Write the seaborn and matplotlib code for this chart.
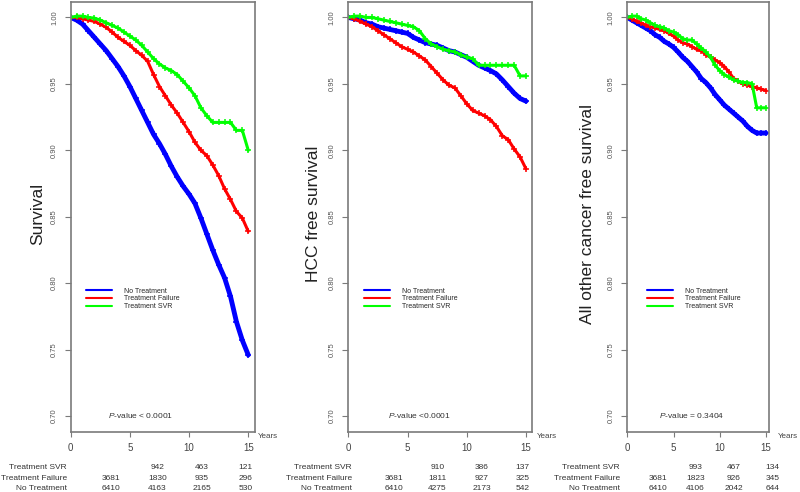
import pandas as pd
import seaborn as sns
import matplotlib.pyplot as plt
from matplotlib.lines import Line2D

# Follow-up time (years) at which the curves were read
years = [0, 0.5, 1, 1.5, 2, 2.5, 3, 3.5, 4, 4.5, 5, 5.5, 6, 6.5, 7, 7.5,
         8, 8.5, 9, 9.5, 10, 10.5, 11, 11.5, 12, 12.5, 13, 13.5, 14, 14.5, 15]

groups = ["No Treatment", "Treatment Failure", "Treatment SVR"]
colors = ["#0000FF", "#FF0000", "#00FF00"]

# Overall survival
surv_no = [1.000, 0.998, 0.995, 0.990, 0.985, 0.980, 0.975, 0.969, 0.963, 0.956,
           0.948, 0.939, 0.930, 0.921, 0.912, 0.905, 0.897, 0.888, 0.880, 0.873,
           0.867, 0.860, 0.849, 0.837, 0.825, 0.814, 0.804, 0.790, 0.771, 0.757, 0.746]
surv_fail = [1.000, 1.000, 0.999, 0.998, 0.997, 0.995, 0.9925, 0.989, 0.985, 0.982,
             0.979, 0.975, 0.9715, 0.967, 0.957, 0.948, 0.941, 0.934, 0.928, 0.921,
             0.914, 0.906, 0.900, 0.896, 0.889, 0.881, 0.871, 0.863, 0.854, 0.849, 0.839]
surv_svr = [1.000, 1.001, 1.001, 1.000, 0.9995, 0.998, 0.996, 0.994, 0.992, 0.989,
            0.986, 0.983, 0.979, 0.974, 0.969, 0.965, 0.962, 0.960, 0.957, 0.952,
            0.947, 0.941, 0.932, 0.926, 0.921, 0.921, 0.921, 0.921, 0.915, 0.915, 0.900]

# HCC free survival
hcc_no = [1.000, 0.999, 0.998, 0.996, 0.995, 0.993, 0.992, 0.991, 0.990, 0.989,
          0.988, 0.985, 0.983, 0.981, 0.980, 0.979, 0.977, 0.975, 0.974, 0.972,
          0.970, 0.967, 0.964, 0.962, 0.960, 0.9575, 0.953, 0.948, 0.943, 0.939, 0.937]
hcc_fail = [1.000, 0.999, 0.997, 0.995, 0.993, 0.990, 0.987, 0.984, 0.981, 0.978,
            0.976, 0.974, 0.971, 0.968, 0.963, 0.958, 0.953, 0.949, 0.947, 0.941,
            0.935, 0.930, 0.928, 0.926, 0.923, 0.918, 0.911, 0.908, 0.901, 0.895, 0.886]
hcc_svr = [1.000, 1.001, 1.001, 1.000, 1.000, 0.999, 0.998, 0.997, 0.996, 0.995,
           0.994, 0.993, 0.990, 0.984, 0.980, 0.978, 0.976, 0.975, 0.974, 0.972,
           0.970, 0.969, 0.964, 0.964, 0.964, 0.964, 0.964, 0.964, 0.964, 0.956, 0.956]

# All other cancer free survival
oth_no = [1.000, 0.998, 0.996, 0.994, 0.992, 0.990, 0.987, 0.985, 0.982, 0.980,
          0.9775, 0.974, 0.970, 0.967, 0.963, 0.959, 0.954, 0.951, 0.947, 0.942,
          0.938, 0.934, 0.931, 0.928, 0.925, 0.922, 0.918, 0.915, 0.913, 0.913, 0.913]
oth_fail = [1.000, 0.999, 0.997, 0.996, 0.994, 0.993, 0.992, 0.991, 0.990, 0.988,
            0.986, 0.983, 0.981, 0.980, 0.978, 0.976, 0.975, 0.972, 0.970, 0.968,
            0.966, 0.963, 0.959, 0.954, 0.952, 0.950, 0.949, 0.948, 0.947, 0.946, 0.945]
oth_svr = [1.000, 1.001, 1.001, 0.999, 0.998, 0.996, 0.994, 0.993, 0.992, 0.990,
           0.989, 0.987, 0.984, 0.983, 0.983, 0.980, 0.977, 0.974, 0.970, 0.964,
           0.960, 0.957, 0.955, 0.953, 0.952, 0.951, 0.951, 0.950, 0.932, 0.932, 0.932]

y_labels = ["Survival", "HCC free survival", "All other cancer free survival"]
p_values = [r"$P$-value < 0.0001", r"$P$-value <0.0001", r"$P$-value = 0.3404"]

y_ticks = [0.70, 0.75, 0.80, 0.85, 0.90, 0.95, 1.00]
x_ticks = [0, 5, 10, 15]

# numbers at risk (rows: SVR, Failure, No Treatment)
risk_rows = ["Treatment SVR", "Treatment Failure", "No Treatment"]
risk_svr = [["", "942", "463", "121"], ["", "910", "386", "137"], ["", "993", "467", "134"]]
risk_fail = [["3681", "1830", "935", "296"], ["3681", "1811", "927", "325"], ["3681", "1823", "926", "345"]]
risk_no = [["6410", "4163", "2165", "530"], ["6410", "4275", "2173", "542"], ["6410", "4106", "2042", "644"]]

series = [(surv_no, surv_fail, surv_svr), (hcc_no, hcc_fail, hcc_svr), (oth_no, oth_fail, oth_svr)]

sns.set_style("white")
plt.rcParams["font.family"] = ["Liberation Sans", "DejaVu Sans"]
plt.rcParams["mathtext.fontset"] = "custom"
plt.rcParams["mathtext.rm"] = "Liberation Sans"
plt.rcParams["mathtext.it"] = "Liberation Sans:italic"

W, H = 800, 492
fig = plt.figure(figsize=(8, 4.92), dpi=100)


def fx(x):
    return x / W


def fy(y):
    return 1 - y / H


# layout of the three panels, in pixels
layout = [
    dict(left=70.7, right=255.0, xmax=15.57, ylab=38, years=258.3, leg=86, p=108.3,
         rlab=67.0, cols=[110.8, 157.3, 201.5, 245.5]),
    dict(left=348.3, right=531.7, xmax=15.48, ylab=314, years=536.5, leg=364, p=387.7,
         rlab=351.7, cols=[394.2, 437.5, 481.5, 522.7]),
    dict(left=627.3, right=769.3, xmax=15.36, ylab=587.5, years=778.0, leg=647.3, p=659.0,
         rlab=620.0, cols=[657.8, 695.5, 733.7, 772.2]),
]
top, bottom = 1.5, 432.0
gray = "#7a7a7a"

for i, lay in enumerate(layout):
    ax = fig.add_axes([fx(lay["left"]), fy(bottom), (lay["right"] - lay["left"]) / W, (bottom - top) / H])
    no, fail, svr = series[i]
    df = pd.DataFrame({
        "Years": years * 3,
        "Survival": no + fail + svr,
        "Group": [groups[0]] * len(years) + [groups[1]] * len(years) + [groups[2]] * len(years),
    })
    sns.lineplot(data=df, x="Years", y="Survival", hue="Group", hue_order=groups,
                 palette=colors, estimator=None, sort=False, legend=False,
                 marker="+", markersize=5, linewidth=2.2, ax=ax)
    for line in ax.lines:
        line.set_markeredgecolor(line.get_color())
        line.set_markeredgewidth(1.1)
    ax.lines[0].set_linewidth(3.5)

    ax.set_xlim(0, lay["xmax"])
    ax.set_ylim(0.688, 1.012)
    ax.set_xticks(x_ticks)
    ax.set_xticklabels([str(t) for t in x_ticks])
    ax.set_yticks(y_ticks)
    ax.set_yticklabels([f"{v:.2f}" for v in y_ticks])
    ax.set_xlabel("")
    ax.set_ylabel("")
    for sp in ax.spines.values():
        sp.set_visible(True)
        sp.set_color(gray)
        sp.set_linewidth(1.2)
    ax.tick_params(axis="y", direction="out", length=4, width=0.8, color=gray,
                   labelsize=5.5, labelcolor="#555555", labelrotation=90, pad=5, left=True)
    for lab in ax.get_yticklabels():
        lab.set_va("center")
    ax.tick_params(axis="x", direction="out", length=3.6, width=0.8, color=gray,
                   labelsize=7, labelcolor="#444444", pad=4, bottom=True)

    fig.text(fx(lay["ylab"]), fy(214), y_labels[i], rotation=90, ha="center", va="center",
             fontsize=12.5, color="#222222")
    fig.text(fx(lay["years"]), fy(437), "Years", ha="left", va="center", fontsize=5.8, color="#444444")
    fig.text(fx(lay["p"]), fy(415), p_values[i], ha="left", va="center", fontsize=6, color="#333333")

    handles = [Line2D([], [], color=c, lw=1.5) for c in colors]
    ax.legend(handles, groups, loc="center left", bbox_to_anchor=(fx(lay["leg"]), fy(298.8)),
              bbox_transform=fig.transFigure, frameon=False, fontsize=5, handlelength=3.7,
              handletextpad=1.8, labelspacing=0.1, borderpad=0, borderaxespad=0)

    rows = [risk_svr[i], risk_fail[i], risk_no[i]]
    for r, (name, ypos) in enumerate(zip(risk_rows, [467.5, 478.3, 488.7])):
        fig.text(fx(lay["rlab"]), fy(ypos), name, ha="right", va="center", fontsize=6, color="#333333")
        for c, val in enumerate(rows[r]):
            fig.text(fx(lay["cols"][c]), fy(ypos), val, ha="center", va="center",
                     fontsize=6, color="#333333")

fig.savefig("out.png", dpi=100)
